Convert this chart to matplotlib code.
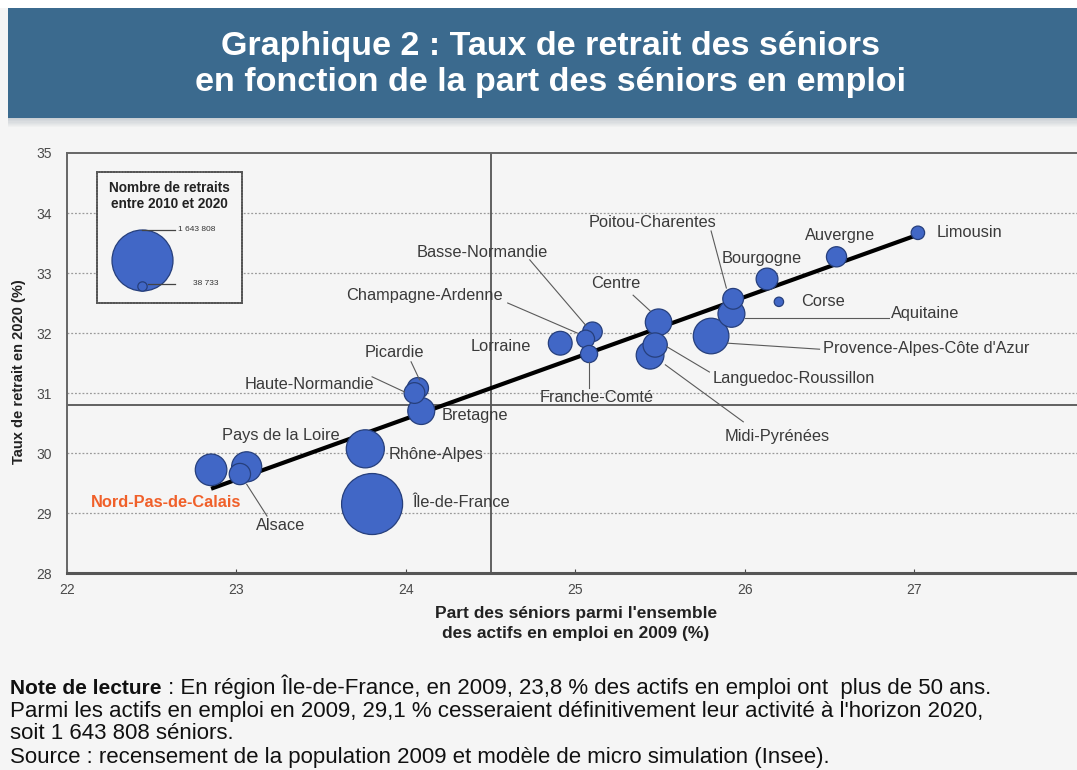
import numpy as np
import matplotlib
matplotlib.use('Agg')
import matplotlib.pyplot as plt
from matplotlib.patches import Rectangle

# ---------------- data ----------------
regions = ['Île-de-France', 'Rhône-Alpes', 'Provence-Alpes-Côte d\'Azur', 'Nord-Pas-de-Calais',
           'Pays de la Loire', 'Midi-Pyrénées', 'Aquitaine', 'Bretagne', 'Centre',
           'Languedoc-Roussillon', 'Lorraine', 'Bourgogne', 'Alsace', 'Picardie',
           'Haute-Normandie', 'Poitou-Charentes', 'Auvergne', 'Basse-Normandie',
           'Champagne-Ardenne', 'Franche-Comté', 'Limousin', 'Corse']
part_seniors = [23.80, 23.76, 25.80, 22.85, 23.06, 25.44, 25.92, 24.09, 25.49,
                25.47, 24.91, 26.13, 23.02, 24.07, 24.05, 25.93, 26.54, 25.10,
                25.06, 25.08, 27.02, 26.20]
taux_retrait = [29.15, 30.07, 31.95, 29.72, 29.77, 31.63, 32.32, 30.70, 32.18,
                31.80, 31.83, 32.90, 29.65, 31.08, 31.00, 32.57, 33.27, 32.02,
                31.90, 31.65, 33.67, 32.52]
nb_retraits = [1643808, 640000, 560000, 440000, 400000, 340000, 320000, 320000, 310000,
               260000, 250000, 210000, 200000, 200000, 190000, 190000, 180000, 170000,
               140000, 130000, 80000, 38733]

x_ticks = [22, 23, 24, 25, 26, 27, 28]
y_ticks = [28, 29, 30, 31, 32, 33, 34, 35]
ref_x = 24.5
ref_y = 30.8
trend_slope = 1.015
trend_intercept = 6.2125
legend_values = [1643808, 38733]
legend_labels = ['1 643 808', '38 733']

title = 'Graphique 2 : Taux de retrait des séniors\nen fonction de la part des séniors en emploi'
xlabel = "Part des séniors parmi l'ensemble\ndes actifs en emploi en 2009 (%)"
ylabel = 'Taux de retrait en 2020 (%)'
legend_title = 'Nombre de retraits\nentre 2010 et 2020'
note_bold = 'Note de lecture'
note_lines = [' : En région Île-de-France, en 2009, 23,8 % des actifs en emploi ont  plus de 50 ans.',
              'Parmi les actifs en emploi en 2009, 29,1 % cesseraient définitivement leur activité à l\'horizon 2020,',
              'soit 1 643 808 séniors.',
              'Source : recensement de la population 2009 et modèle de micro simulation (Insee).']

# label layout: text position, alignment, optional leader line
label_layout = {
    'Limousin': (27.13, 33.68, 'left', None),
    'Auvergne': (26.56, 33.62, 'center', None),
    'Bourgogne': (26.10, 33.25, 'center', None),
    'Corse': (26.33, 32.53, 'left', None),
    'Poitou-Charentes': (25.455, 33.85, 'center', ((25.80, 33.70), (25.89, 32.75))),
    'Aquitaine': (26.86, 32.33, 'left', ((26.0, 32.25), (26.85, 32.25))),
    'Provence-Alpes-Côte d\'Azur': (26.46, 31.75, 'left', ((25.90, 31.83), (26.44, 31.73))),
    'Languedoc-Roussillon': (25.81, 31.25, 'left', ((25.54, 31.77), (25.79, 31.35))),
    'Midi-Pyrénées': (26.19, 30.27, 'center', ((25.53, 31.47), (25.99, 30.52))),
    'Centre': (25.24, 32.82, 'center', ((25.34, 32.63), (25.44, 32.37))),
    'Basse-Normandie': (24.45, 33.35, 'center', ((24.73, 33.22), (25.06, 32.13))),
    'Champagne-Ardenne': (24.11, 32.63, 'center', ((24.60, 32.50), (25.01, 32.0))),
    'Lorraine': (24.74, 31.77, 'right', None),
    'Franche-Comté': (25.125, 30.93, 'center', ((25.08, 31.52), (25.08, 31.08))),
    'Picardie': (23.93, 31.68, 'center', ((24.03, 31.52), (24.08, 31.22))),
    'Haute-Normandie': (23.43, 31.15, 'center', ((23.80, 31.27), (23.99, 31.02))),
    'Bretagne': (24.21, 30.62, 'left', None),
    'Rhône-Alpes': (23.90, 29.98, 'left', None),
    'Île-de-France': (24.04, 29.17, 'left', None),
    'Pays de la Loire': (23.26, 30.30, 'center', None),
    'Alsace': (23.26, 28.80, 'center', ((23.06, 29.48), (23.18, 28.95))),
    'Nord-Pas-de-Calais': (23.03, 29.18, 'right', None),
}

# ---------------- style ----------------
plt.rcParams['font.family'] = ['Liberation Sans', 'DejaVu Sans']
BG = '#f5f5f5'
BUBBLE = '#4167c6'
EDGE = '#263f7c'
TXT = '#3a3a3a'
LABEL_FS = 11.8
SMAX = (2 * 30.5 * 0.72) ** 2  # marker area (pt^2) for largest value
vmax = max(legend_values)

fig = plt.figure(figsize=(10.77, 7.7), dpi=100, facecolor=BG)

# title banner
fig.patches.append(Rectangle((0.0074, 0.8468), 1.0, 0.1428, transform=fig.transFigure,
                             facecolor='#3b6a8e', edgecolor='none', zorder=0))
for i in range(8):
    fig.patches.append(Rectangle((0.0074, 0.8468 - (i + 1) * 0.0015), 1.0, 0.0015,
                                 transform=fig.transFigure, facecolor='#7a8a98',
                                 alpha=0.35 * (1 - i / 8), edgecolor='none', zorder=0))
fig.patches.append(Rectangle((0, 0.9896), 1.0, 0.02, transform=fig.transFigure,
                             facecolor='white', edgecolor='none', zorder=0))
fig.text(0.511, 0.916, title, ha='center', va='center', color='white',
         fontsize=24.5, fontweight='bold', linespacing=1.2)

# main axes
ax = fig.add_axes([0.0622, 0.2558, 0.9443, 0.5455])
ax.set_facecolor(BG)
ax.set_xlim(x_ticks[0], x_ticks[-1])
ax.set_ylim(y_ticks[0], y_ticks[-1])
ax.set_xticks(x_ticks)
ax.set_yticks(y_ticks)
ax.tick_params(axis='both', labelsize=10, colors='#4a4a4a', length=3, direction='in')
ax.tick_params(axis='y', length=0, pad=11)
ax.tick_params(axis='x', pad=7)
ax.spines['right'].set_visible(False)
ax.spines['top'].set_linestyle((0, (1, 1)))
ax.spines['top'].set_color('#666666')
ax.spines['top'].set_linewidth(1.4)
ax.spines['left'].set_color('#666666')
ax.spines['left'].set_linewidth(1.4)
ax.spines['bottom'].set_color('#555555')
ax.spines['bottom'].set_linewidth(2.2)
for yv in y_ticks[1:-1]:
    ax.axhline(yv, color='#9a9a9a', lw=0.9, ls=(0, (1.5, 1.5)), zorder=1)
ax.axvline(ref_x, color='#555555', lw=1.3, zorder=2)
ax.axhline(ref_y, color='#555555', lw=1.3, zorder=2)

ax.set_xlabel(xlabel, fontsize=12.5, fontweight='bold', color='#222222',
              linespacing=1.45)
ax.xaxis.set_label_coords((576 - 67) / (1084 - 67), -0.078)
ax.xaxis.label.set_va('top')
ax.set_ylabel(ylabel, fontsize=10.5, fontweight='bold', color='#222222')
ax.yaxis.set_label_coords(-0.040, 0.48)

# trend line
tx = np.array([min(part_seniors), max(part_seniors)])
ax.plot(tx, trend_intercept + trend_slope * tx, color='black', lw=3, zorder=3,
        solid_capstyle='butt')

# bubbles (largest first so small ones are on top)
order = np.argsort(nb_retraits)[::-1]
xs = np.array(part_seniors)[order]
ys = np.array(taux_retrait)[order]
ss = np.array(nb_retraits)[order] / vmax * SMAX
ax.scatter(xs, ys, s=ss, color=BUBBLE, edgecolor=EDGE, linewidth=0.9, zorder=4)

# labels
for name in regions:
    lx, ly, ha, leader = label_layout[name]
    if name == 'Nord-Pas-de-Calais':
        ax.text(lx, ly, name, ha=ha, va='center', fontsize=LABEL_FS, fontweight='bold',
                color='#f0602a', zorder=6)
    else:
        ax.text(lx, ly, name, ha=ha, va='center', fontsize=LABEL_FS, color=TXT, zorder=6)
    if leader is not None:
        (x0, y0), (x1, y1) = leader
        ax.plot([x0, x1], [y0, y1], color='#5a5a5a', lw=0.8, zorder=5)

# size legend (axes in pixel units)
lw_px, lh_px = 145, 131
lax = fig.add_axes([97 / 1077, 1 - 303 / 770, lw_px / 1077, lh_px / 770])
lax.set_xlim(0, lw_px)
lax.set_ylim(0, lh_px)
lax.set_xticks([])
lax.set_yticks([])
lax.set_facecolor(BG)
for s in lax.spines.values():
    s.set_color('#555555')
    s.set_linewidth(1.3)
    s.set_linestyle((0, (1, 0.6)))
lax.text(72, 107, legend_title, ha='center', va='center', fontsize=9.8,
         fontweight='bold', color='#222222', linespacing=1.25)
cx, base = 45, 12.5
label_x = [81, 96]
for v, lab, lxp in zip(legend_values, legend_labels, label_x):
    s = v / vmax * SMAX
    r_px = np.sqrt(s) / 0.72 / 2
    cy = base + r_px
    lax.scatter([cx], [cy], s=s, color=BUBBLE, edgecolor=EDGE, linewidth=0.9, zorder=3)
    top = cy + r_px if v == vmax else cy + 2
    x_start = cx if v == vmax else cx + 6
    lax.plot([x_start, 78], [top, top], color='#444444', lw=0.9, zorder=4)
    lax.text(lxp, top, lab, ha='left', va='center', fontsize=6, color='#333333')

# note
renderer = fig.canvas.get_renderer()
NOTE_FS = 16
ny = [1 - 694 / 770, 1 - 717 / 770, 1 - 739 / 770, 1 - 763 / 770]
t0 = fig.text(10 / 1077, ny[0], note_bold, fontsize=15, fontweight='bold',
              color='#111111', va='baseline', ha='left')
bb = t0.get_window_extent(renderer)
fig.text(bb.x1 / 1077, ny[0], note_lines[0], fontsize=NOTE_FS, color='#111111',
         va='baseline', ha='left')
for line, yy in zip(note_lines[1:], ny[1:]):
    fig.text(10 / 1077, yy, line, fontsize=NOTE_FS, color='#111111', va='baseline', ha='left')

fig.savefig('out.png', dpi=100, facecolor=BG)
